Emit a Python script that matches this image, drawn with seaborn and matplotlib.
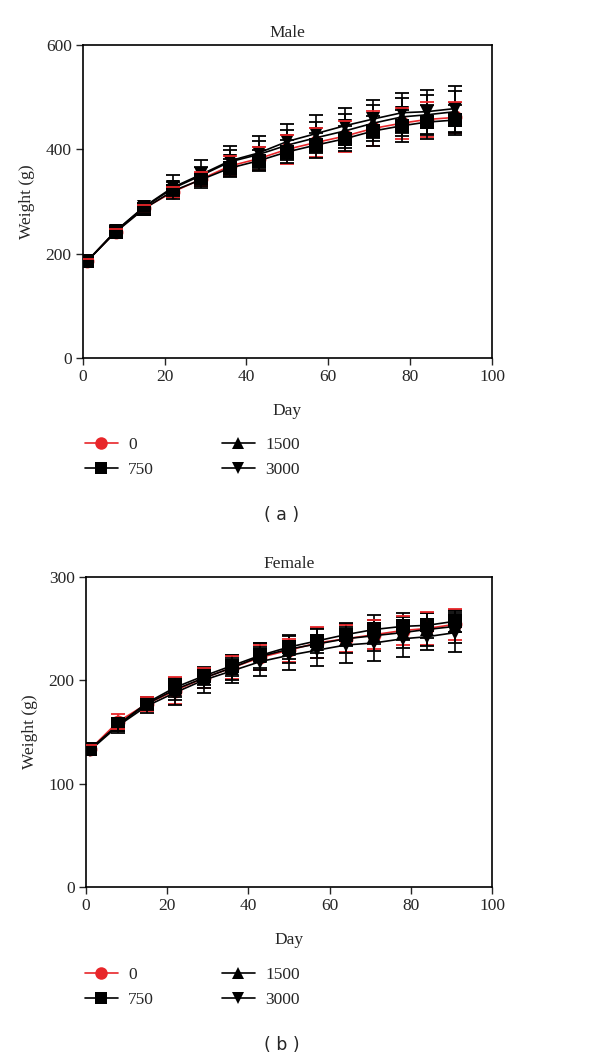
import numpy as np
import pandas as pd
import matplotlib
matplotlib.use("Agg")
import matplotlib.pyplot as plt
import seaborn as sns

days = [1, 8, 15, 22, 29, 36, 43, 50, 57, 64, 71, 78, 84, 91]
doses = ["0", "750", "1500", "3000"]

# Male mean body weight (g)
male_0 = [185, 242, 287, 318, 343, 368, 382, 400, 413, 425, 440, 450, 457, 461]
male_750 = [185, 241, 286, 320, 342, 364, 378, 395, 408, 420, 435, 445, 452, 456]
male_1500 = [185, 243, 289, 325, 350, 376, 390, 408, 422, 435, 450, 462, 466, 472]
male_3000 = [185, 243, 290, 327, 352, 378, 393, 415, 430, 445, 458, 470, 472, 478]
# Male SD
male_sd_0 = [4, 5, 7, 10, 14, 20, 22, 28, 27, 30, 33, 30, 34, 30]
male_sd_750 = [4, 5, 7, 10, 12, 18, 20, 22, 24, 24, 28, 31, 32, 28]
male_sd_1500 = [4, 5, 7, 12, 16, 22, 26, 28, 30, 32, 34, 36, 38, 40]
male_sd_3000 = [4, 5, 7, 23, 27, 29, 32, 33, 35, 35, 36, 38, 42, 44]

# Female mean body weight (g)
female_0 = [133, 160, 177, 190, 202, 212, 222, 229, 236, 240, 244, 248, 250, 254]
female_750 = [133, 157, 178, 193, 204, 214, 224, 232, 238, 244, 249, 252, 253, 257]
female_1500 = [133, 157, 177, 191, 202, 212, 223, 230, 235, 240, 243, 246, 249, 252]
female_3000 = [132, 156, 175, 188, 200, 209, 218, 224, 229, 234, 236, 240, 242, 246]
# Female SD
female_sd_0 = [4, 7, 7, 13, 10, 11, 12, 11, 15, 13, 14, 14, 16, 15]
female_sd_750 = [4, 6, 6, 9, 9, 10, 12, 12, 12, 11, 14, 13, 12, 10]
female_sd_1500 = [4, 6, 6, 10, 10, 12, 13, 13, 14, 14, 15, 15, 16, 16]
female_sd_3000 = [4, 7, 7, 12, 12, 12, 14, 14, 15, 17, 17, 18, 13, 19]

colors = {"0": "#e8262a", "750": "black", "1500": "black", "3000": "black"}
markers = {"0": "o", "750": "s", "1500": "^", "3000": "v"}
zorders = {"0": 3, "1500": 4, "3000": 5, "750": 6}


def make_df(means, sds):
    rows = []
    for dose, m, s in zip(doses, means, sds):
        for d, v, e in zip(days, m, s):
            rows.append({"Day": d, "Weight": v, "SD": e, "Dose": dose})
    return pd.DataFrame(rows)


male = make_df([male_0, male_750, male_1500, male_3000],
               [male_sd_0, male_sd_750, male_sd_1500, male_sd_3000])
female = make_df([female_0, female_750, female_1500, female_3000],
                 [female_sd_0, female_sd_750, female_sd_1500, female_sd_3000])

sns.set_style("white")
plt.rcParams["font.family"] = ["Liberation Serif", "DejaVu Serif"]

fig = plt.figure(figsize=(6, 10.59), dpi=100)
ax1 = fig.add_axes([0.138, 0.662, 0.682, 0.2956])
ax2 = fig.add_axes([0.143, 0.1624, 0.677, 0.293])


def draw(ax, df, title, ymax, ystep, leg_y, tag, tag_y):
    for dose in doses:
        sub = df[df["Dose"] == dose]
        ax.errorbar(sub["Day"], sub["Weight"], yerr=sub["SD"], fmt="none",
                    ecolor=colors[dose], elinewidth=1.2, capsize=5,
                    capthick=1.3, zorder=zorders[dose] - 0.5)
    sns.lineplot(data=df, x="Day", y="Weight", hue="Dose", style="Dose",
                 hue_order=doses, style_order=doses, palette=colors,
                 markers=markers, dashes=False, markersize=10,
                 markeredgewidth=0, linewidth=1.2, errorbar=None, ax=ax)
    for line, dose in zip(ax.lines, doses):
        line.set_zorder(zorders[dose])
    ax.set_xlim(0, 100)
    ax.set_ylim(0, ymax)
    ax.set_xticks(range(0, 101, 20))
    ax.set_yticks(np.arange(0, ymax + 1, ystep))
    ax.tick_params(axis="both", which="both", direction="out", length=5,
                   width=1, labelsize=12.5, left=True, bottom=True, pad=3)
    for sp in ax.spines.values():
        sp.set_color("black")
        sp.set_linewidth(1.2)
    ax.set_title(title, fontsize=12.5, pad=6)
    ax.set_xlabel("Day", fontsize=12.5, labelpad=13)
    ax.set_ylabel("Weight (g)", fontsize=12.5, labelpad=8)
    sns.move_legend(ax, "upper left", bbox_to_anchor=(0.115, leg_y),
                    bbox_transform=fig.transFigure, ncol=2, frameon=False,
                    title=None, fontsize=12.5, handlelength=1.9,
                    markerscale=0.9, columnspacing=3.9, labelspacing=0.5,
                    handletextpad=0.6)
    fig.text(0.47, tag_y, tag, ha="center", va="center", fontsize=12.5,
             family="DejaVu Sans")


draw(ax1, male, "Male", 600, 200, 1 - 421 / 1059, "( a )", 1 - 515 / 1059)
draw(ax2, female, "Female", 300, 100, 1 - 951 / 1059, "( b )", 1 - 1045 / 1059)

fig.savefig("out.png", dpi=100)
